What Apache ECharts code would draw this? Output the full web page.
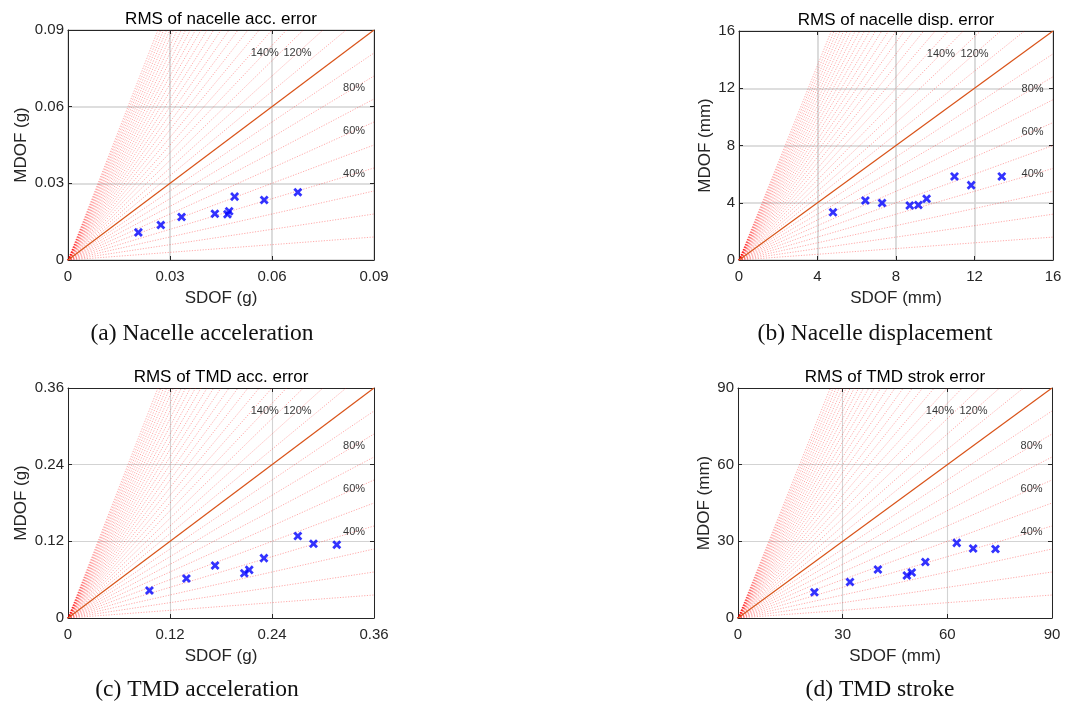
<!DOCTYPE html>
<html>
<head>
<meta charset="utf-8">
<script src="https://cdn.jsdelivr.net/npm/echarts@6/dist/echarts.min.js"></script>
<style>
  html, body { margin: 0; padding: 0; background: #fff; }
  #chart { width: 1067px; height: 706px; }
</style>
</head>
<body>
<div id="chart"></div>
<script>
// Measured RMS errors: SDOF model (x) against MDOF model (y)
const nacelleAccSdof = [0.0207, 0.0273, 0.0334, 0.0432, 0.0469, 0.0474, 0.0490, 0.0577, 0.0676];
const nacelleAccMdof = [0.0108, 0.0137, 0.0168, 0.0181, 0.0179, 0.0191, 0.0248, 0.0235, 0.0265];

const nacelleDispSdof = [4.79, 6.44, 7.29, 8.70, 9.14, 9.56, 10.98, 11.83, 13.39];
const nacelleDispMdof = [3.33, 4.16, 3.98, 3.81, 3.84, 4.28, 5.84, 5.23, 5.84];

const tmdAccSdof = [0.0958, 0.1393, 0.1730, 0.2074, 0.2132, 0.2305, 0.2704, 0.2888, 0.3162];
const tmdAccMdof = [0.0430, 0.0618, 0.0822, 0.0701, 0.0753, 0.0937, 0.1282, 0.1161, 0.1146];

const tmdStrokeSdof = [21.9, 32.1, 40.1, 48.4, 49.8, 53.7, 62.7, 67.4, 73.8];
const tmdStrokeMdof = [10.1, 14.1, 19.0, 16.6, 17.8, 21.9, 29.4, 27.2, 27.0];

// Tick labels of each panel (both axes share them)
const nacelleAccTicks = ['0', '0.03', '0.06', '0.09'];
const nacelleDispTicks = ['0', '4', '8', '12', '16'];
const tmdAccTicks = ['0', '0.12', '0.24', '0.36'];
const tmdStrokeTicks = ['0', '30', '60', '90'];

// Ratio lines (MDOF / SDOF) fanned out from the origin
const raySlopes = [0.1, 0.2, 0.3, 0.4, 0.5, 0.6, 0.7, 0.8, 0.9,
  1.1, 1.2, 1.3, 1.4, 1.5, 1.6, 1.7, 1.8, 1.9, 2.0,
  2.1, 2.2, 2.3, 2.4, 2.5, 2.6, 2.7, 2.8, 2.9, 3.0,
  3.1, 3.2, 3.3, 3.4];
// Annotated ratios: along the top edge and along the right edge
const topRatios = [1.4, 1.2];
const sideRatios = [0.8, 0.6, 0.4];

const panels = [
  { title: 'RMS of nacelle acc. error', xName: 'SDOF (g)', yName: 'MDOF (g)', caption: '(a) Nacelle acceleration',
    max: 0.09, interval: 0.03, ticks: nacelleAccTicks, sdof: nacelleAccSdof, mdof: nacelleAccMdof,
    grid: { left: 68, top: 30, width: 306, height: 230 }, yGap: 38, cap: [202, 334], gridW: 1.6 },
  { title: 'RMS of nacelle disp. error', xName: 'SDOF (mm)', yName: 'MDOF (mm)', caption: '(b) Nacelle displacement',
    max: 16, interval: 4, ticks: nacelleDispTicks, sdof: nacelleDispSdof, mdof: nacelleDispMdof,
    grid: { left: 739, top: 31, width: 314, height: 229 }, yGap: 25, cap: [875, 334], gridW: 1.6 },
  { title: 'RMS of TMD acc. error', xName: 'SDOF (g)', yName: 'MDOF (g)', caption: '(c) TMD acceleration',
    max: 0.36, interval: 0.12, ticks: tmdAccTicks, sdof: tmdAccSdof, mdof: tmdAccMdof,
    grid: { left: 68, top: 388, width: 306, height: 230 }, yGap: 38, cap: [197, 690], gridW: 1.1 },
  { title: 'RMS of TMD strok error', xName: 'SDOF (mm)', yName: 'MDOF (mm)', caption: '(d) TMD stroke',
    max: 90, interval: 30, ticks: tmdStrokeTicks, sdof: tmdStrokeSdof, mdof: tmdStrokeMdof,
    grid: { left: 738, top: 388, width: 314, height: 230 }, yGap: 25, cap: [880, 690], gridW: 1.1 }
];

const AXIS_COLOR = '#262626';
const SANS = 'Liberation Sans, Arial, sans-serif';
const SERIF = 'Liberation Serif, Times New Roman, serif';

const grids = [], xAxes = [], yAxes = [], series = [], graphics = [];

panels.forEach((p, i) => {
  grids.push(Object.assign({ containLabel: false }, p.grid));
  const tickFmt = (v, idx) => p.ticks[idx] !== undefined ? p.ticks[idx] : String(v);
  const common = { gridIndex: i, type: 'value', min: 0, max: p.max, interval: p.interval };
  const line = { show: true, onZero: false, lineStyle: { color: AXIS_COLOR, width: 1 } };
  const tick = { show: true, inside: true, length: 4, lineStyle: { color: AXIS_COLOR } };
  const split = { show: true, lineStyle: { color: '#d3d3d3', width: p.gridW } };

  xAxes.push(Object.assign({}, common, {
    position: 'bottom', axisLine: line, axisTick: tick, splitLine: split,
    axisLabel: { formatter: tickFmt, color: AXIS_COLOR, fontSize: 15, fontFamily: SANS, margin: 9 },
    name: p.xName, nameLocation: 'middle', nameGap: 30,
    nameTextStyle: { color: AXIS_COLOR, fontSize: 17, fontFamily: SANS }
  }));
  xAxes.push(Object.assign({}, common, {
    position: 'top', axisLine: line, axisTick: tick, splitLine: { show: false }, axisLabel: { show: false }
  }));
  yAxes.push(Object.assign({}, common, {
    position: 'left', axisLine: line, axisTick: tick, splitLine: split,
    axisLabel: { formatter: tickFmt, color: AXIS_COLOR, fontSize: 15, fontFamily: SANS, margin: 4 },
    name: p.yName, nameLocation: 'middle', nameGap: p.yGap, nameRotate: 90,
    nameTextStyle: { color: AXIS_COLOR, fontSize: 17, fontFamily: SANS }
  }));
  yAxes.push(Object.assign({}, common, {
    position: 'right', axisLine: line, axisTick: tick, splitLine: { show: false }, axisLabel: { show: false }
  }));

  const xi = 2 * i, yi = 2 * i;

  // dotted ratio fan, each ray ends where it leaves the plot box
  series.push({
    type: 'lines', coordinateSystem: 'cartesian2d', xAxisIndex: xi, yAxisIndex: yi,
    polyline: false, silent: true, z: 1,
    lineStyle: { color: 'rgba(255,0,0,0.45)', width: 0.75, type: [1.2, 1.5], opacity: 1 },
    data: raySlopes.map(s => ({ coords: s < 1 ? [[0, 0], [p.max, s * p.max]] : [[0, 0], [p.max / s, p.max]] }))
  });

  // 1:1 reference line
  series.push({
    type: 'line', xAxisIndex: xi, yAxisIndex: yi, symbol: 'none', silent: true, z: 2,
    lineStyle: { color: '#D95319', width: 1.2 },
    data: [[0, 0], [p.max, p.max]]
  });

  // measured points
  series.push({
    type: 'scatter', xAxisIndex: xi, yAxisIndex: yi, z: 4,
    symbol: 'path://M3.6,0H6.4V3.6H10V6.4H6.4V10H3.6V6.4H0V3.6H3.6Z', symbolRotate: 45, symbolSize: 10,
    itemStyle: { color: '#0000FF' },
    data: p.sdof.map((x, k) => [x, p.mdof[k]])
  });

  // ratio annotations sitting on their rays
  const topY = 0.9 * p.max, sideX = 0.935 * p.max;
  const labelData = topRatios.map(r => ({ value: [topY / r, topY], name: Math.round(r * 100) + '%' }))
    .concat(sideRatios.map(r => ({ value: [sideX, r * sideX], name: Math.round(r * 100) + '%' })));
  series.push({
    type: 'scatter', xAxisIndex: xi, yAxisIndex: yi, z: 5, silent: true,
    symbol: 'circle', symbolSize: 1, itemStyle: { color: 'rgba(0,0,0,0)' },
    label: { show: true, position: 'inside', formatter: d => d.name, color: '#000', fontSize: 11, fontFamily: SANS },
    data: labelData
  });

  const g = p.grid;
  graphics.push({
    type: 'text', x: g.left + g.width / 2, y: g.top - 11,
    style: { text: p.title, font: '17px ' + SANS, fill: '#000', align: 'center', verticalAlign: 'middle' }
  });
  graphics.push({
    type: 'text', x: p.cap[0], y: p.cap[1],
    style: { text: p.caption, font: '23.5px ' + SERIF, fill: '#111', align: 'center', verticalAlign: 'middle' }
  });
});

const chart = echarts.init(document.getElementById('chart'), null, { renderer: 'canvas' });
chart.setOption({
  animation: false,
  backgroundColor: '#fff',
  grid: grids,
  xAxis: xAxes,
  yAxis: yAxes,
  series: series,
  graphic: graphics
});
</script>
</body>
</html>
